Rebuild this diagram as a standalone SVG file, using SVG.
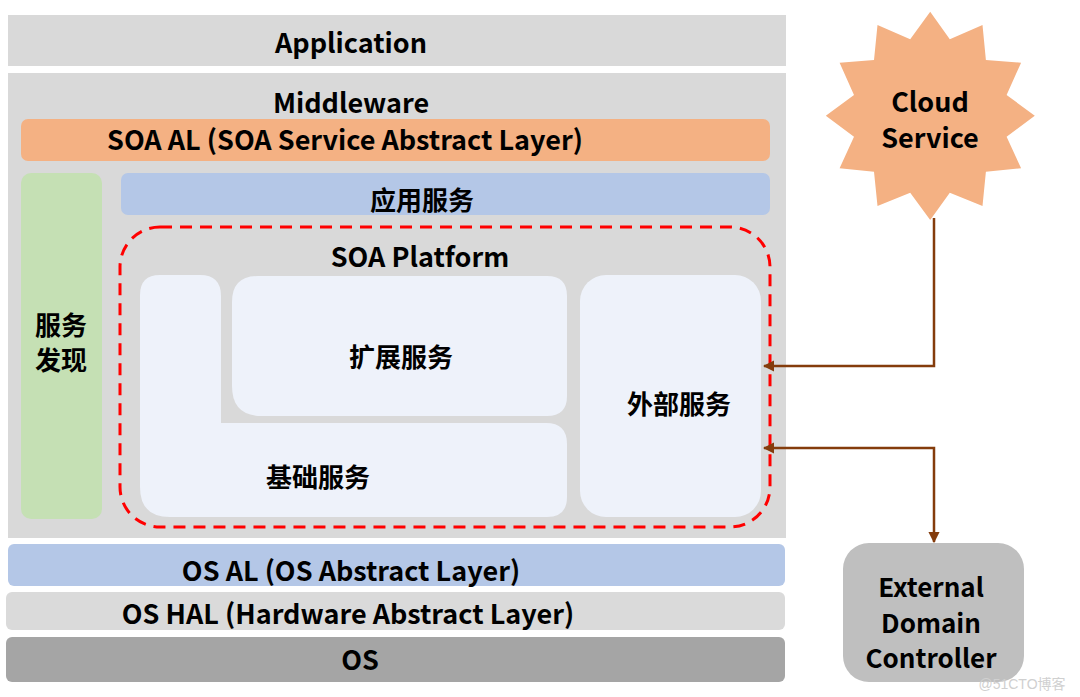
<svg xmlns="http://www.w3.org/2000/svg" width="1080" height="697" viewBox="0 0 1080 697">
<style>
text{font-family:"Noto Sans CJK SC","Noto Sans",sans-serif;font-weight:bold;fill:#000;text-anchor:middle;dominant-baseline:central;font-size:27px}
.cjk{font-size:26px}
.edc{font-size:26px}
.gray{fill:#d9d9d9}
.box{fill:#eef2fa}
.conn{fill:none;stroke:#843c0c;stroke-width:2.5}
</style>
<defs>
<marker id="ah" viewBox="0 0 10 10" refX="9" refY="5" markerWidth="4.5" markerHeight="4.5" orient="auto-start-reverse">
<path d="M0,0 L10,5 L0,10 z" fill="#843c0c"/>
</marker>
</defs>
<rect width="1080" height="697" fill="#fff"/>
<g id="application">
<rect class="gray" x="8" y="15" width="778" height="51"/>
<text x="351" y="41">Application</text>
</g>
<g id="middleware">
<rect class="gray" x="8" y="73" width="778" height="465"/>
<text x="351" y="101">Middleware</text>
</g>
<g id="soa-al">
<rect x="21" y="119" width="749" height="42" rx="7" fill="#f4b183"/>
<text x="345" y="138">SOA AL (SOA Service Abstract Layer)</text>
</g>
<g id="service-discovery">
<rect x="21" y="173" width="81" height="346" rx="10" fill="#c5e0b4"/>
<text class="cjk" x="61" y="323">服务</text>
<text class="cjk" x="61" y="358">发现</text>
</g>
<g id="app-service">
<rect x="121" y="173" width="649" height="42" rx="7" fill="#b4c7e7"/>
<text class="cjk" x="422" y="198">应用服务</text>
</g>
<g id="soa-platform">
<rect x="120" y="227" width="650" height="300" rx="40" fill="none" stroke="#ff0000" stroke-width="3" stroke-dasharray="12 8"/>
<text x="420" y="255">SOA Platform</text>
</g>
<g id="base-service">
<path class="box" d="M160,275 H200 Q221,275 221,296 V423 H546 Q567,423 567,444 V497 Q567,517 547,517 H170 Q140,517 140,487 V295 Q140,275 160,275 Z"/>
<text class="cjk" x="318" y="475">基础服务</text>
</g>
<g id="ext-service">
<path class="box" d="M258,276 H547 Q567,276 567,296 V396 Q567,416 547,416 H262 Q232,416 232,386 V302 Q232,276 258,276 Z"/>
<text class="cjk" x="401" y="355">扩展服务</text>
</g>
<g id="external-service">
<rect class="box" x="580" y="275" width="181" height="242" rx="26"/>
<text class="cjk" x="679" y="402">外部服务</text>
</g>
<g id="os-al">
<rect x="8" y="544" width="777" height="42" rx="6" fill="#b4c7e7"/>
<text x="351" y="569">OS AL (OS Abstract Layer)</text>
</g>
<g id="os-hal">
<rect x="6" y="592" width="779" height="38" rx="6" fill="#dadada"/>
<text x="348" y="612">OS HAL (Hardware Abstract Layer)</text>
</g>
<g id="os">
<rect x="6" y="637" width="779" height="45" rx="6" fill="#a5a5a5"/>
<text x="360" y="658">OS</text>
</g>
<g id="cloud-service">
<polygon fill="#f4b183" points="930.2,11.7 949.8,39.3 982.5,25 985.9,60 1021.1,62.7 1006.6,95 1034.8,115.7 1006.6,136.7 1021.1,168.3 985.9,171.7 982.5,206 949.8,192.7 930.2,220 910.2,192.7 877.5,206 874,171.7 839.6,168.3 854,136.7 825.8,115.7 854,95 839.6,62.7 874,60 877.5,25 910.2,39.3"/>
<text x="930" y="100">Cloud</text>
<text x="930" y="136">Service</text>
</g>
<g id="external-domain-controller">
<rect x="843" y="543" width="181" height="139" rx="26" fill="#bfbfbf"/>
<text class="edc" x="931" y="585">External</text>
<text class="edc" x="931" y="621">Domain</text>
<text class="edc" x="931" y="656">Controller</text>
</g>
<g id="connectors">
<path class="conn" d="M934,218 V366 H764" marker-end="url(#ah)"/>
<path class="conn" d="M764,448 H934 V542" marker-start="url(#ah)" marker-end="url(#ah)"/>
</g>
<text x="1022" y="684" style="font-family:'Liberation Sans','Noto Sans CJK SC',sans-serif;font-weight:normal;font-size:14px;fill:#d0d0d0">@51CTO博客</text>
</svg>
